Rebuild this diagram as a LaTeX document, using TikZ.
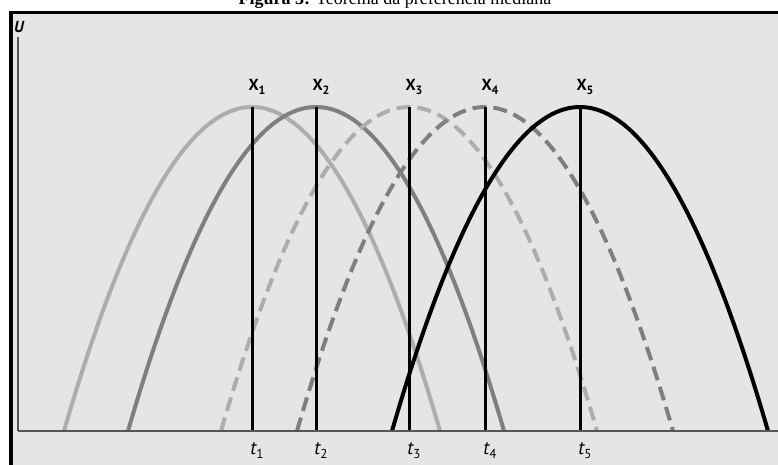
\documentclass[tikz,border=0pt]{standalone}
\usepackage{fontspec}
\setmainfont{Liberation Serif}
\newfontfamily\labfont{PT Sans}
\definecolor{panel}{HTML}{E5E5E5}
\definecolor{lightc}{HTML}{ADADAD}
\definecolor{midc}{HTML}{7F7F7F}
\definecolor{axisc}{HTML}{555555}
\newcommand{\sublab}[3]{#1\raisebox{-4pt}{\fontsize{#3}{#3}\selectfont #2}}
\tikzset{
  curvebase/.style={line width=4pt},
  lightsolid/.style={curvebase, draw=lightc},
  midsolid/.style={curvebase, draw=midc},
  lightdash/.style={curvebase, draw=lightc, dash pattern=on 14pt off 7pt},
  middash/.style={curvebase, draw=midc, dash pattern=on 14pt off 7pt},
  blacksolid/.style={curvebase, draw=black},
  vline/.style={line width=3pt, draw=black},
  xlab/.style={font=\labfont\bfseries\fontsize{16}{16}\selectfont, anchor=base, inner sep=0pt},
  tlab/.style={font=\labfont\itshape\fontsize{19}{19}\selectfont, anchor=base, inner sep=0pt},
}
\begin{document}
\begin{tikzpicture}[x=1pt,y=-1pt]
\useasboundingbox (0,0) rectangle (778,465);
\clip (0,0) rectangle (778,465);
\fill[white] (0,0) rectangle (778,465);
% title
\node[anchor=base, inner sep=0pt, font=\fontsize{18}{18}\selectfont] (title) at (395,5) {\textbf{Figura 3:} Teorema da preferência mediana};
% panel
\fill[panel] (9,11) rectangle (778,465);
\draw[line width=3.5pt] (9,12.5) -- (778,12.5);
\draw[line width=4.5pt] (11,11) -- (11,465);
% axes
\coordinate (o) at (18,431);
\coordinate (ytop) at (18,37);
\coordinate (xend) at (778,431);
\draw[axisc, line width=1.3pt] (ytop) -- (o);
\node[anchor=base west, inner sep=0pt, font=\labfont\bfseries\itshape\fontsize{16}{16}\selectfont] (U) at (14,33) {U};
% parabolas (peak at y=107, base at y=431, half width 188)
\foreach \c/\s in {252/lightsolid, 316/midsolid, 409/lightdash, 485/middash, 580/blacksolid}{
  \draw[\s] (\c-188,431) .. controls (\c-62.67,-1) and (\c+62.67,-1) .. (\c+188,431);
}
% vertical lines and labels
\foreach \c/\i in {252/1, 316/2, 409/3, 485/4, 580/5}{
  \coordinate (top\i) at (\c,107);
  \coordinate (bot\i) at (\c,431);
  \draw[vline] (top\i) -- (bot\i);
  \node[xlab] (X\i) at (\c+5,91) {\sublab{X}{\i}{12}};
  \node[tlab] (t\i) at (\c+5,454) {\sublab{t}{\upshape\mdseries\i}{13}};
}
\draw[axisc, line width=1.8pt] (o) -- (xend);
\end{tikzpicture}
\end{document}
